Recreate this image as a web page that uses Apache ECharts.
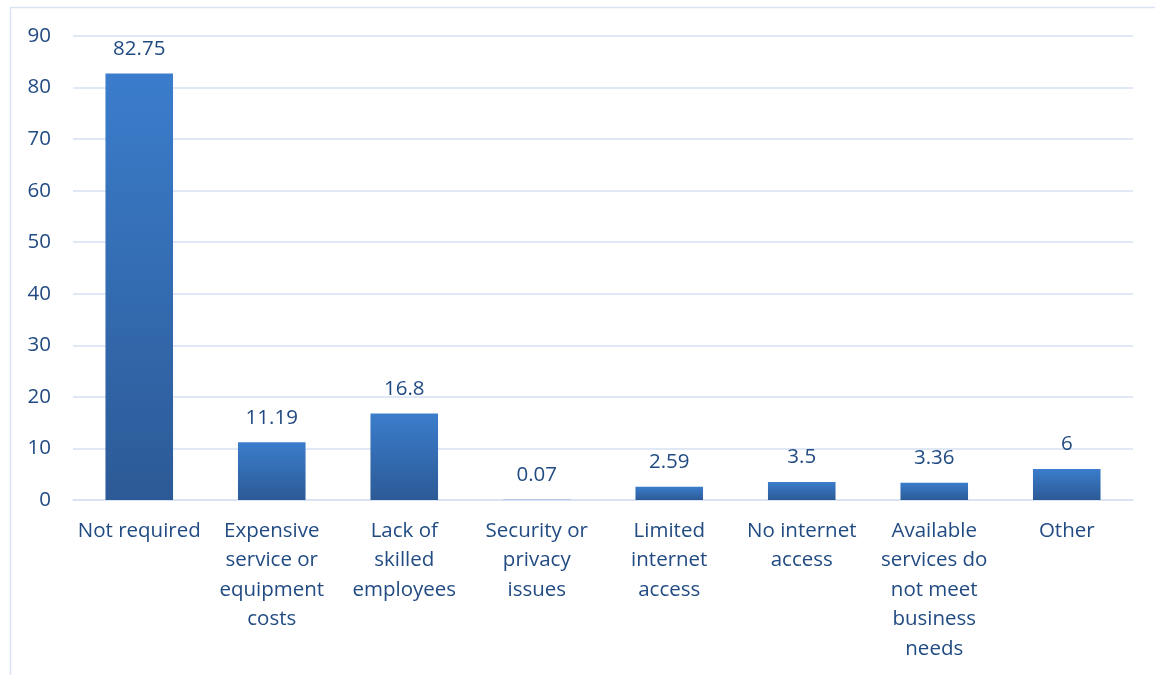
<!DOCTYPE html>
<html><head><meta charset="utf-8">
<script src="https://cdn.jsdelivr.net/npm/echarts@6/dist/echarts.min.js"></script>
<style>html,body{margin:0;padding:0;background:#fff}#c{width:1155px;height:675px}</style>
</head><body><div id="c"></div>
<script>
const categories = ["Not required","Expensive\nservice or\nequipment\ncosts","Lack of\nskilled\nemployees","Security or\nprivacy\nissues","Limited\ninternet\naccess","No internet\naccess","Available\nservices do\nnot meet\nbusiness\nneeds","Other"];
const values = [82.75, 11.19, 16.8, 0.07, 2.59, 3.5, 3.36, 6];
const valueLabels = ["82.75","11.19","16.8","0.07","2.59","3.5","3.36","6"];
const textColor = "#214b82";
const font = "'Open Sans', 'Liberation Sans', sans-serif";
const chart = echarts.init(document.getElementById('c'), null, {renderer:'canvas'});
chart.setOption({
  animation:false,
  graphic:[{type:'rect',shape:{x:10.5,y:7.5,width:1300,height:800},style:{fill:'none',stroke:'#d9e3f3',lineWidth:1.5},silent:true}],
  grid:{left:73,right:22,top:36,bottom:175,containLabel:false},
  xAxis:{type:'category',data:categories,
    axisLine:{show:true,lineStyle:{color:'#d6e1f3',width:1.5}},axisTick:{show:false},
    axisLabel:{color:textColor,fontFamily:font,fontSize:20.5,lineHeight:29.5,margin:16,interval:0}},
  yAxis:{type:'value',min:0,max:90,interval:10,
    axisLine:{show:false},axisTick:{show:false},
    splitLine:{lineStyle:{color:'#d6e1f3',width:1.5}},
    axisLabel:{color:textColor,fontFamily:font,fontSize:20.5,margin:22}},
  series:[{type:'bar',data:values,barWidth:'51%',
    itemStyle:{color:new echarts.graphic.LinearGradient(0,0,0,1,[{offset:0,color:'#3b7dcc'},{offset:1,color:'#2c5a96'}])},
    label:{show:true,position:'top',distance:14,color:textColor,fontFamily:font,fontSize:20.5,
      formatter:p=>valueLabels[p.dataIndex]}}]
});
</script></body></html>
